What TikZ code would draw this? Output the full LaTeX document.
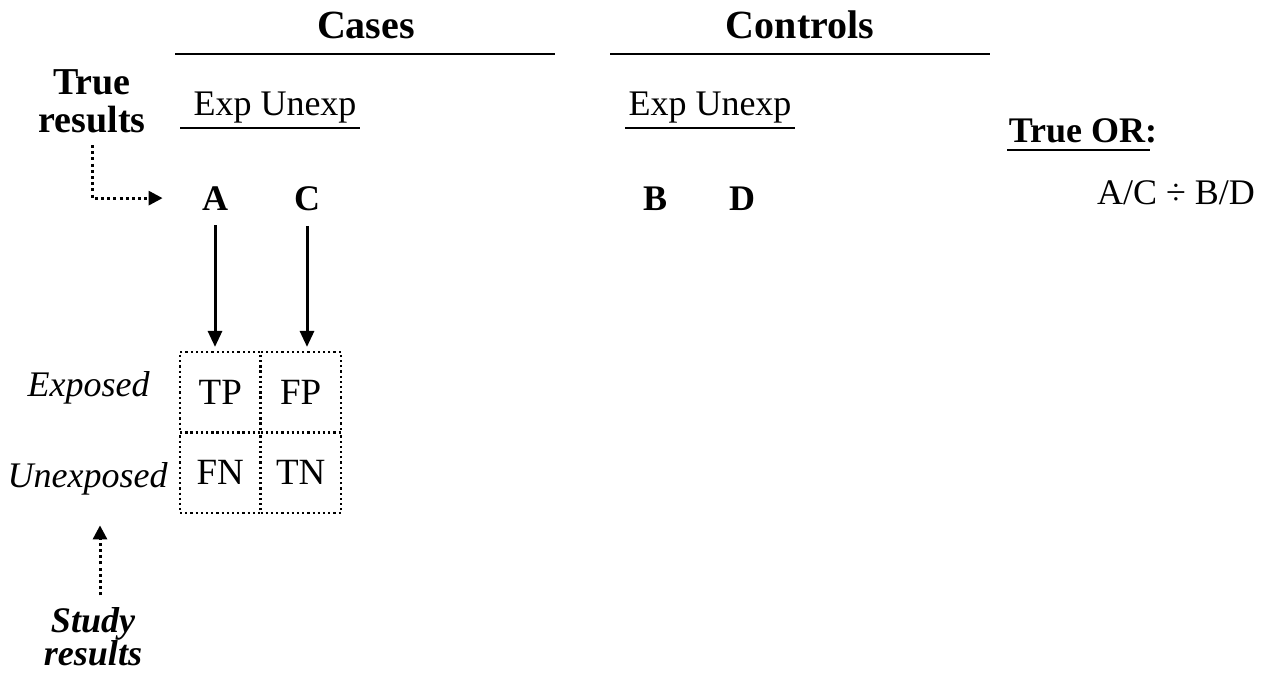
\documentclass[tikz,border=0pt]{standalone}
\usepackage{fontspec}
\setmainfont{Liberation Serif}
\usetikzlibrary{arrows.meta,calc}
\newcommand{\cw}{80.5}

\begin{document}
\begin{tikzpicture}[x=0.5pt,y=-0.5pt,
  txt/.style={inner sep=0pt,anchor=base,font=\fontsize{18}{19}\selectfont},
  hd/.style={txt,font=\fontsize{20}{22}\selectfont\bfseries},
  bd/.style={txt,font=\fontsize{18}{19}\selectfont\bfseries},
  it/.style={txt,anchor=base east,font=\fontsize{18}{19}\selectfont\itshape},
  rule/.style={line width=1pt},
  arr/.style={line width=1.5pt,-{Triangle[length=8pt,width=7pt]}},
  dotarr/.style={line width=1.5pt,dash pattern=on 1.5pt off 1.6pt,-{Triangle[length=7pt,width=7pt]}},
  cell/.style={draw,line width=1.1pt,dash pattern=on 1.1pt off 1.5pt,inner sep=0pt,minimum size=40.25pt,font=\fontsize{18.5}{19}\selectfont}]
\useasboundingbox (0,0) rectangle (1263,675);
\coordinate (o) at (180,352);

% headings
\node[hd] (cases) at (366,38) {Cases};
\node[hd] (controls) at (800,38) {Controls};
\draw[rule] (175,54) -- (555,54);
\draw[rule] (610,54) -- (990,54);
\node[txt] (expcase) at (275,115) {Exp Unexp};
\node[txt] (expctrl) at (710,115) {Exp Unexp};
\draw[rule] (180,128) -- (360,128);
\draw[rule] (625,128) -- (795,128);

% true counts
\node[bd] (A) at (215,210) {A};
\node[bd] (C) at (307,210) {C};
\node[bd] (B) at (655,210) {B};
\node[bd] (D) at (742,210) {D};
\node[bd,anchor=center,align=center,font=\fontsize{19}{19}\selectfont\bfseries] (true) at (92,101) {True\\results};

\node[bd] (trueor) at (1083,142) {True OR:};
\draw[rule] (1007,150) -- (1150,150);
\node[txt] (ratio) at (1176,204) {A/C ÷ B/D};

% study table
\path (o) ++(0.5*\cw,0.5*\cw) node[cell] (tp) {TP};
\path (o) ++(1.5*\cw,0.5*\cw) node[cell] (fp) {FP};
\path (o) ++(0.5*\cw,1.5*\cw) node[cell] (fn) {FN};
\path (o) ++(1.5*\cw,1.5*\cw) node[cell] (tn) {TN};
\node[it] (exposed) at (150,396) {Exposed};
\node[it] (unexposed) at (168,487) {Unexposed};
\node[anchor=center,align=center,inner sep=0pt,font=\fontsize{18}{16.5}\selectfont\bfseries\itshape] (study) at (93,637) {Study\\results};
\path (study.north) ++(7,-82) coordinate (up);

% arrows
\draw[dotarr,shorten <=6pt,shorten >=19.5pt] (true.south) |- (A.west);
\draw[arr,shorten <=7.5pt,shorten >=2pt] (A.south) -- (A.south |- tp.north);
\draw[arr,shorten <=7.5pt,shorten >=2pt] (C.south) -- (C.south |- fp.north);
\draw[dotarr,shorten <=6pt] (up |- study.north) -- (up);
\end{tikzpicture}
\end{document}
